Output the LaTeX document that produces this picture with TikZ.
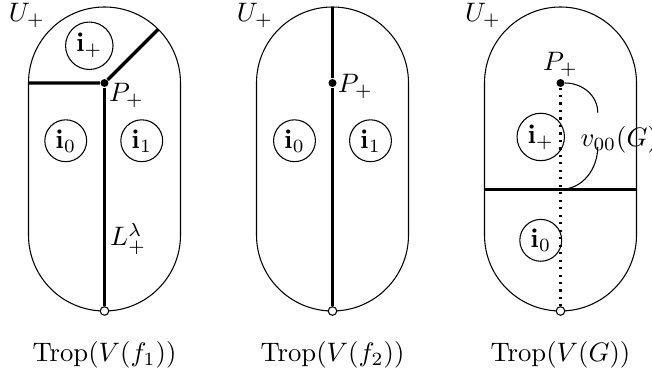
\documentclass[tikz,border=0pt]{standalone}
\usepackage{amsmath}
\usepackage{amssymb}
\usepackage{tikz}

\tikzset{
  region/.style={draw,circle,inner sep=1.5pt},
  vertex/.style={circle,fill,inner sep=0pt,minimum size=3pt},
  endpt/.style={circle,draw,fill=white,inner sep=0pt,minimum size=3.2pt},
  trop/.style={very thick},
}

\begin{document}
\begin{tikzpicture}
    \useasboundingbox (-1.375,1.092) rectangle (7.204,-3.88);

    % Outlines of U_+
    \foreach \c in {0,3,6} {
        \draw (\c-1,0) arc (180:0:1) -- (\c+1,-2) arc (0:-180:1) -- cycle;
        \node (U\c) at (\c-1.02,0.89) {$U_+$};
    }

    % Trop(V(f_1))
    \coordinate (A1) at (-1,0);
    \coordinate (B1) at (45:1);
    \node[vertex] (P1) at (0,0) {};
    \node[endpt] (O1) at (0,-3) {};
    \draw[trop] (A1) -- (P1) -- (B1);
    \draw[trop] (P1) -- (O1);
    \node[region] (ip1) at (-0.2,0.49) {$\mathbf{i}_+$};
    \node[region] (i01) at (-0.51,-0.76) {$\mathbf{i}_0$};
    \node[region] (i11) at (0.49,-0.76) {$\mathbf{i}_1$};
    \node (PL1) at (0.29,-0.17) {$P_+$};
    \node (L1) at (0.31,-2.05) {$L_+^\lambda$};
    \node (T1) at (0,-3.58) {$\mathrm{Trop}(V(f_1))$};

    % Trop(V(f_2))
    \coordinate (A2) at (3,1);
    \node[vertex] (P2) at (3,0) {};
    \node[endpt] (O2) at (3,-3) {};
    \draw[trop] (A2) -- (P2) -- (O2);
    \node[region] (i02) at (2.5,-0.76) {$\mathbf{i}_0$};
    \node[region] (i12) at (3.5,-0.76) {$\mathbf{i}_1$};
    \node (PL2) at (3.3,-0.05) {$P_+$};
    \node (T2) at (3,-3.58) {$\mathrm{Trop}(V(f_2))$};

    % Trop(V(G))
    \coordinate (A3) at (5,-1.4);
    \coordinate (B3) at (7,-1.4);
    \coordinate (Q3) at (6,-1.4);
    \node[vertex] (P3) at (6,0) {};
    \node[endpt] (O3) at (6,-3) {};
    \draw[thick,dotted] (P3) -- (O3);
    \draw[trop] (A3) -- (B3);
    \node[region] (ip3) at (5.74,-0.71) {$\mathbf{i}_+$};
    \node[region] (i03) at (5.74,-2.07) {$\mathbf{i}_0$};
    \node (PL3) at (6,0.25) {$P_+$};
    \node[anchor=west] (V3) at (6.14,-0.75) {$v_{00}(G)$};
    \coordinate (C3) at (6.49,-0.39);
    \coordinate (D3) at (6.49,-0.84);
    \draw (P3) to[out=0,in=90] (C3);
    \draw (D3) to[out=-90,in=0] (Q3);
    \node (T3) at (6,-3.58) {$\mathrm{Trop}(V(G))$};
\end{tikzpicture}
\end{document}
